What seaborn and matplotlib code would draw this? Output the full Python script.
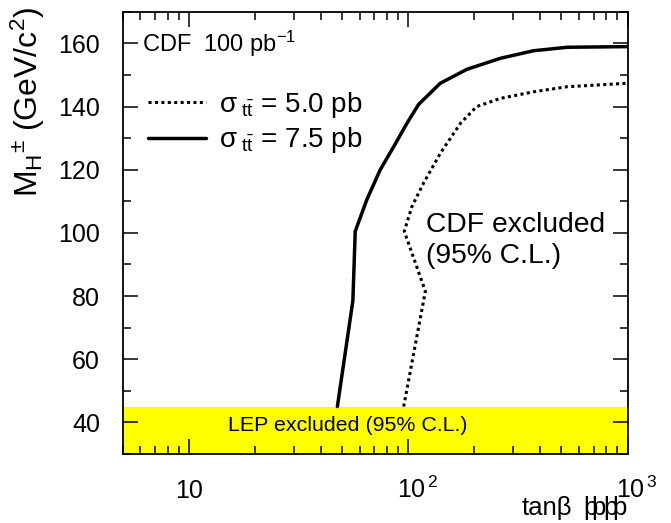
import numpy as np
import pandas as pd
import matplotlib
matplotlib.use('Agg')
import matplotlib.pyplot as plt
import matplotlib.transforms as mtransforms
from matplotlib.ticker import LogLocator, MultipleLocator, NullFormatter
import seaborn as sns

# exclusion contours (100 pb^-1)
tanb_75 = [47.5, 55.9, 57.3, 64.7, 74.5, 85.8, 98.6, 111.5, 140, 185, 263, 373, 531, 1000]
mh_75 = [45, 78.5, 100.5, 110.5, 120, 127.3, 134.7, 140.7, 147.4, 151.8, 155.3, 157.7, 158.8, 159]
tanb_50 = [95.3, 119.7, 95.9, 104, 117.5, 140, 173, 205, 263, 373, 531, 1000]
mh_50 = [45, 81.5, 100.5, 108.4, 115.8, 125.2, 134.7, 140, 142.6, 144.7, 146.3, 147.4]
lep_limit = 45

x_range = [5, 1000]
y_range = [30, 170]
x_major = [10, 100, 1000]
x_labels = ['10', r'$\mathregular{10^{\,2}}$', r'$\mathregular{10^{\,3}}$']
y_major = [40, 60, 80, 100, 120, 140, 160]

sns.set_theme(style='ticks')
plt.rcParams['font.family'] = ['Liberation Sans', 'DejaVu Sans']
plt.rcParams['mathtext.fontset'] = 'custom'
plt.rcParams['mathtext.rm'] = 'Liberation Sans'
plt.rcParams['mathtext.it'] = 'Liberation Sans'
plt.rcParams['mathtext.bf'] = 'Liberation Sans:bold'
plt.rcParams['text.color'] = 'black'
plt.rcParams['axes.labelcolor'] = 'black'

fig = plt.figure(figsize=(6.71, 5.23), dpi=100)
ax = fig.add_axes([123 / 671, 1 - 453.9 / 523, 504.5 / 671, 442 / 523])

df50 = pd.DataFrame({'tanb': tanb_50, 'mh': mh_50})
df75 = pd.DataFrame({'tanb': tanb_75, 'mh': mh_75})

# LEP band
ax.axhspan(y_range[0], lep_limit, color='#ffff00', lw=0, zorder=0)

sns.lineplot(data=df50, x='tanb', y='mh', sort=False, estimator=None, ax=ax,
             color='black', lw=2.2, linestyle=(0, (1, 1.1)),
             label=r'$\sigma_{\ t\bar{t}}$ = 5.0 pb')
sns.lineplot(data=df75, x='tanb', y='mh', sort=False, estimator=None, ax=ax,
             color='black', lw=2.5, label=r'$\sigma_{\ t\bar{t}}$ = 7.5 pb')

ax.set_xscale('log')
ax.set_xlim(x_range)
ax.set_ylim(y_range)
ax.set_xticks(x_major, x_labels)
ax.xaxis.set_minor_locator(LogLocator(base=10, subs=np.arange(2, 10)))
ax.xaxis.set_minor_formatter(NullFormatter())
ax.set_yticks(y_major)
ax.yaxis.set_minor_locator(MultipleLocator(10))

ax.tick_params(which='both', direction='in', top=True, right=True,
               width=1.1, color='black', labelcolor='black')
ax.tick_params(which='major', length=11)
ax.tick_params(which='minor', length=5.5)
ax.tick_params(axis='y', labelsize=18, pad=16.5)
ax.tick_params(axis='x', labelsize=18, pad=31.5)
for spine in ax.spines.values():
    spine.set_linewidth(1.3)
    spine.set_color('black')

# ROOT style: mantissa centred on the tick, exponent hanging to the right
shift = mtransforms.ScaledTranslation(9.5 / 100, 0, fig.dpi_scale_trans)
for i, lab in enumerate(ax.get_xticklabels()):
    lab.set_va('baseline')
    if i > 0:
        lab.set_transform(lab.get_transform() + shift)

ax.set_xlabel('')
ax.set_ylabel(r'M$_{\mathregular{H}}$$^{\pm}$ (GeV/c$^{2}$)', fontsize=23, loc='top')
ax.yaxis.label.set_va('baseline')
ax.yaxis.set_label_coords(-(123 - 38) / 504.5, 1.012)

leg = ax.legend(loc='upper left', bbox_to_anchor=((148 - 123) / 504.5, 1 - (90 - 12) / 442),
                frameon=False, fontsize=20, handlelength=2.1, handletextpad=0.45,
                labelspacing=0.2, borderpad=0, borderaxespad=0)

ax.text(0.037, 0.909, r'CDF  100 pb$^{-1}$', transform=ax.transAxes, fontsize=17, va='baseline')
ax.text(0.601, 0.501, 'CDF excluded', transform=ax.transAxes, fontsize=20.3, va='baseline')
ax.text(0.601, 0.433, '(95% C.L.)', transform=ax.transAxes, fontsize=20.3, va='baseline')
ax.text(0.446, 0.051, 'LEP excluded (95% C.L.)', transform=ax.transAxes, fontsize=15.4,
        ha='center', va='baseline')

# axis title, as it came out of the original file
fig.text(521.7 / 671, 1 - 515 / 523, 'tanβ', fontsize=18.5, va='baseline')
for xp in [583, 591, 603, 612]:
    fig.text(xp / 671, 1 - 515 / 523, 'þ', fontsize=18.5, va='baseline')

fig.savefig('out.png', dpi=100)
